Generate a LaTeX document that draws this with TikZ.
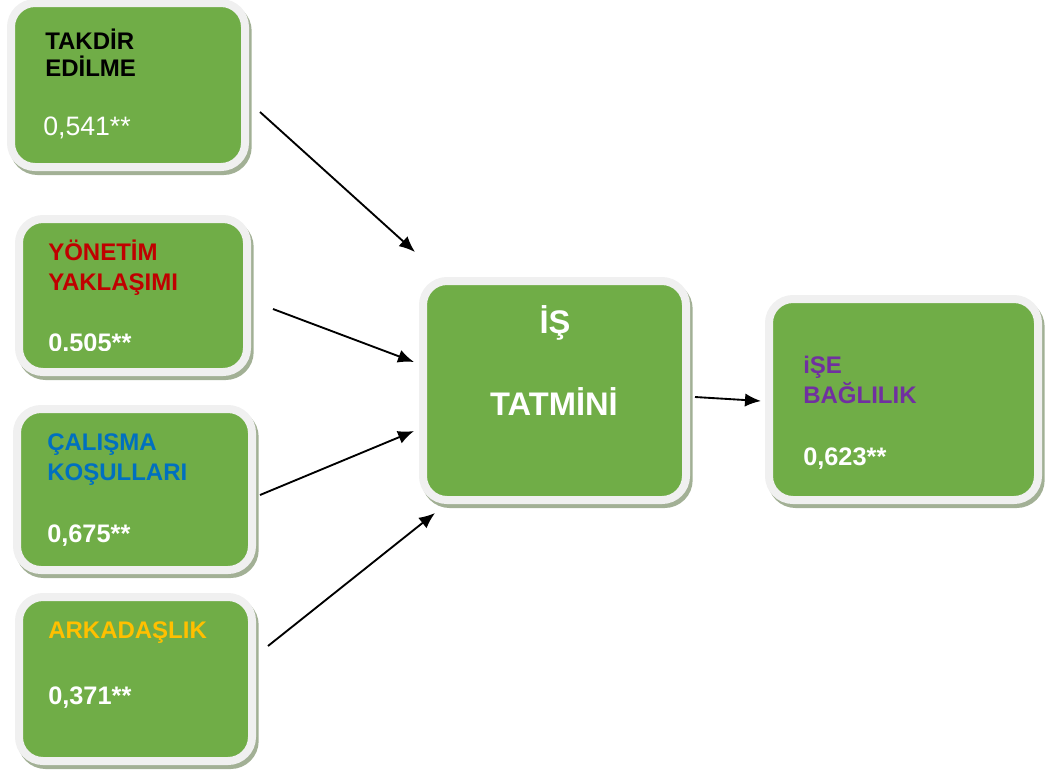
\documentclass[tikz,border=0pt]{standalone}
\usepackage{fontspec}
\setmainfont{Liberation Sans}
\usepackage{tikz}
\usetikzlibrary{arrows.meta}

\definecolor{yesil}{HTML}{70AD47}
\definecolor{kenar}{HTML}{F0F0F0}
\definecolor{golge}{HTML}{A2B095}
\definecolor{kirmizi}{HTML}{C00000}
\definecolor{mavi}{HTML}{0070C0}
\definecolor{turuncu}{HTML}{FFC000}
\definecolor{mor}{HTML}{7030A0}

\tikzset{
  kutu/.style={rectangle, rounded corners=18pt, fill=yesil, draw=kenar, line width=6pt, inner sep=0pt,
    preaction={draw=golge, fill=golge, line width=6pt, transform canvas={shift={(2pt,-3pt)}}}},
  baslik/.style={anchor=base west, inner sep=0pt, font=\fontsize{18pt}{21pt}\selectfont\bfseries},
  deger/.style={anchor=base west, inner sep=0pt, text=white, font=\fontsize{19pt}{22pt}\selectfont\bfseries},
  buyuk/.style={anchor=base, inner sep=0pt, text=white, font=\fontsize{24.5pt}{28pt}\selectfont\bfseries},
  ok/.style={-{Latex[length=12pt,width=10pt]}, line width=1.4pt},
}

\begin{document}
\begin{tikzpicture}[x=0.75pt, y=-0.75pt]
\useasboundingbox (0,0) rectangle (1061,769);

% left boxes
\node[kutu, minimum width=175.5pt, minimum height=123pt] (takdir) at (128,85) {};
\node[baslik] (takdir1) at (45,49) {TAKDİR};
\node[baslik] (takdir2) at (45,76) {EDİLME};
\node[deger, font=\fontsize{20pt}{23pt}\selectfont] (takdirD) at (43,135) {0,541**};

\node[kutu, minimum width=171pt, minimum height=114.75pt] (yonetim) at (133,295.5) {};
\node[baslik, text=kirmizi] (yonetim1) at (48,260) {YÖNETİM};
\node[baslik, text=kirmizi] (yonetim2) at (48,290) {YAKLAŞIMI};
\begin{scope}
  \clip (0,200) rectangle (300,350);
  \node[deger] (yonetimD) at (48,351) {0.505**};
\end{scope}

\node[kutu, minimum width=176.25pt, minimum height=120.75pt] (calisma) at (134.5,489.5) {};
\node[baslik, text=mavi] (calisma1) at (47,450) {ÇALIŞMA};
\node[baslik, text=mavi] (calisma2) at (47,480) {KOŞULLARI};
\node[deger] (calismaD) at (47,542) {0,675**};

\node[kutu, minimum width=174.75pt, minimum height=123pt] (arkadas) at (135.5,679) {};
\node[baslik, text=turuncu] (arkadas1) at (48,638) {ARKADAŞLIK};
\node[deger] (arkadasD) at (48,704) {0,371**};

% middle and right
\node[kutu, minimum width=197.25pt, minimum height=164.25pt] (tatmin) at (554.5,390.5) {};
\node[buyuk] (tatmin1) at (555,333) {İŞ};
\node[buyuk] (tatmin2) at (554,415) {TATMİNİ};

\node[kutu, minimum width=201.75pt, minimum height=150.75pt] (baglilik) at (903.5,399.5) {};
\node[baslik, text=mor] (baglilik1) at (803,373) {iŞE};
\node[baslik, text=mor] (baglilik2) at (803,403) {BAĞLILIK};
\node[deger] (baglilikD) at (803,465) {0,623**};

% arrows
\coordinate (o1a) at (260,112);
\coordinate (o1b) at (415,252);
\coordinate (o2a) at (273,309);
\coordinate (o2b) at (414,362);
\coordinate (o3a) at (260,495);
\coordinate (o3b) at (414,431);
\coordinate (o4a) at (268,646);
\coordinate (o4b) at (435,513);
\coordinate (o5a) at (695,397);
\coordinate (o5b) at (761,401);
\draw[ok] (o1a) -- (o1b);
\draw[ok] (o2a) -- (o2b);
\draw[ok] (o3a) -- (o3b);
\draw[ok] (o4a) -- (o4b);
\draw[ok] (o5a) -- (o5b);

\end{tikzpicture}
\end{document}
